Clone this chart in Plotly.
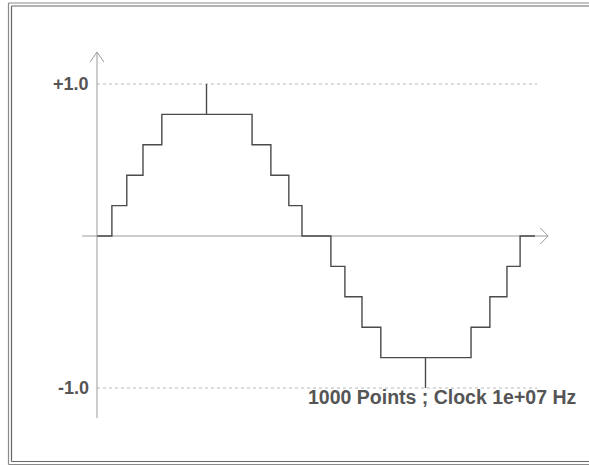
import plotly.graph_objects as go

# ---- data (sample index 0..1000, quantised sine, 0.2 steps) ----
step_x = [0, 34, 68, 105, 148, 354, 397, 438, 468, 534, 566, 605, 648, 854, 897, 936, 966, 1000]
step_y = [0.0, 0.2, 0.4, 0.6, 0.8, 0.6, 0.4, 0.2, 0.0, -0.2, -0.4, -0.6, -0.8, -0.6, -0.4, -0.2, 0.0, 0.0]
peak_x = [250, 750]
peak_from = [0.8, -0.8]
peak_to = [1.0, -1.0]
ref_levels = [1.0, -1.0]
ref_labels = ["+1.0", "-1.0"]
caption = "1000 Points ; Clock 1e+07 Hz"

W, H = 589, 465
X_RANGE = [-221.46, 1123.3]
Y_RANGE = [-1.5066, 1.5526]

def px(v):
    return v / W

def py(v):
    return 1 - v / H

fig = go.Figure()

# quantised waveform
fig.add_trace(go.Scatter(x=step_x, y=step_y, mode="lines", line_shape="hv",
                         line=dict(color="#4a4a4a", width=1.4), hoverinfo="skip"))

# peak markers
for xv, y0, y1 in zip(peak_x, peak_from, peak_to):
    fig.add_trace(go.Scatter(x=[xv, xv], y=[y0, y1], mode="lines",
                             line=dict(color="#4a4a4a", width=1.4), hoverinfo="skip"))

shapes = []
ax_col = "#9a9a9a"
# dotted reference lines
for lv in ref_levels:
    shapes.append(dict(type="line", xref="x", yref="y", x0=0, x1=1005, y0=lv, y1=lv,
                       line=dict(color="#b8b8b8", width=1, dash="dot"), layer="below"))
# axes
shapes.append(dict(type="line", xref="x", yref="y", x0=0, x1=0, y0=-1.197, y1=1.21,
                   line=dict(color=ax_col, width=1)))
shapes.append(dict(type="line", xref="x", yref="y", x0=-34, x1=1030, y0=0, y1=0,
                   line=dict(color=ax_col, width=1), layer="below"))
# arrow heads (open chevrons)
shapes.append(dict(type="path", xref="x", yref="y",
                   path="M -16,1.144 L 0,1.21 L 16,1.144",
                   line=dict(color=ax_col, width=1)))
shapes.append(dict(type="path", xref="x", yref="y",
                   path="M 1012,0.053 L 1030,0 L 1012,-0.053",
                   line=dict(color=ax_col, width=1)))

# double frame
fr1 = "#8a8a8a"
fr2 = "#666666"
shapes.append(dict(type="line", xref="paper", yref="paper", x0=px(8.5), x1=px(8.5), y0=py(3), y1=py(464.5), line=dict(color=fr1, width=1.2)))
shapes.append(dict(type="line", xref="paper", yref="paper", x0=px(11.5), x1=px(11.5), y0=py(6), y1=py(461.5), line=dict(color=fr2, width=1.2)))
shapes.append(dict(type="line", xref="paper", yref="paper", x0=px(8.5), x1=1.01, y0=py(3), y1=py(3), line=dict(color=fr1, width=1.2)))
shapes.append(dict(type="line", xref="paper", yref="paper", x0=px(11.5), x1=1.01, y0=py(6), y1=py(6), line=dict(color=fr2, width=1.2)))
shapes.append(dict(type="line", xref="paper", yref="paper", x0=px(8.5), x1=1.01, y0=py(464.5), y1=py(464.5), line=dict(color=fr1, width=1.2)))
shapes.append(dict(type="line", xref="paper", yref="paper", x0=px(11.5), x1=1.01, y0=py(461.5), y1=py(461.5), line=dict(color=fr2, width=1.2)))

font_fam = "Liberation Sans, Arial, sans-serif"
annotations = []
for lv, lab in zip(ref_levels, ref_labels):
    annotations.append(dict(x=-14, y=lv, xref="x", yref="y", text="<b>" + lab + "</b>",
                            showarrow=False, xanchor="right", yanchor="middle",
                            font=dict(family=font_fam, size=18, color="#555555")))
annotations.append(dict(x=px(578), y=py(397), xref="paper", yref="paper",
                        text="<b>" + caption + "</b>", showarrow=False,
                        xanchor="right", yanchor="middle",
                        font=dict(family=font_fam, size=19.5, color="#555555")))

fig.update_layout(
    width=W, height=H,
    margin=dict(l=0, r=0, t=0, b=0),
    paper_bgcolor="white", plot_bgcolor="white",
    showlegend=False,
    xaxis=dict(range=X_RANGE, visible=False, fixedrange=True),
    yaxis=dict(range=Y_RANGE, visible=False, fixedrange=True),
    shapes=shapes, annotations=annotations,
)

fig.write_html("out.html", config={"displayModeBar": False},
               post_script="document.body.style.margin='0';document.body.style.overflow='hidden';")
